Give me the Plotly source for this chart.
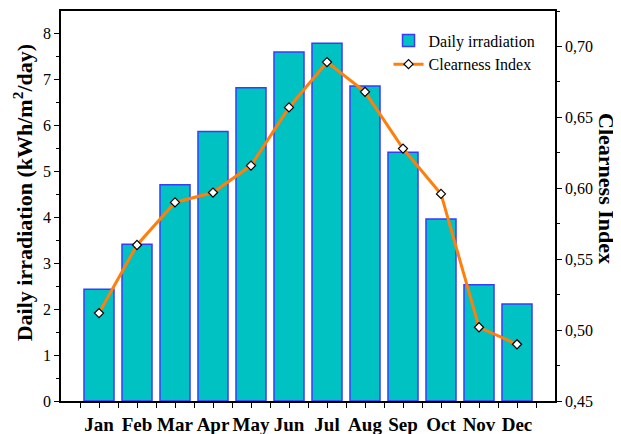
import plotly.graph_objects as go

months = ["Jan", "Feb", "Mar", "Apr", "May", "Jun", "Jul", "Aug", "Sep", "Oct", "Nov", "Dec"]
irradiation = [2.43, 3.41, 4.70, 5.86, 6.81, 7.59, 7.78, 6.85, 5.41, 3.96, 2.53, 2.11]
clearness = [0.512, 0.560, 0.590, 0.597, 0.616, 0.657, 0.689, 0.668, 0.628, 0.596, 0.502, 0.490]

xs = list(range(len(months)))
font_family = "Liberation Serif"

fig = go.Figure()
fig.add_trace(go.Bar(
    x=xs, y=irradiation, name="Daily irradiation", width=0.79,
    marker=dict(color="#00C2C2", line=dict(color="#3A3AFF", width=1.5)),
    yaxis="y",
))
fig.add_trace(go.Scatter(
    x=xs, y=clearness, name="Clearness Index", mode="lines+markers",
    line=dict(color="#FF7F0A", width=3),
    marker=dict(symbol="diamond", size=7, color="white", line=dict(color="black", width=1.2)),
    yaxis="y2",
))

# page body has an 8px default margin, so the figure is sized/offset to compensate
fig.update_layout(
    width=613, height=426,
    margin=dict(l=53, r=66, t=3, b=33, autoexpand=False),
    paper_bgcolor="white", plot_bgcolor="white",
    separators=",.",
    font=dict(family=font_family, size=16, color="black"),
    showlegend=True,
    legend=dict(x=0.663, y=0.968, xanchor="left", yanchor="top",
                bgcolor="rgba(0,0,0,0)", font=dict(size=16, family=font_family),
                itemwidth=30, tracegroupgap=0),
    xaxis=dict(
        range=[-1, 12], tickvals=xs, ticktext=months, automargin=False,
        showline=True, linecolor="black", linewidth=1.5, mirror=True,
        ticks="outside", ticklen=5, tickwidth=1.2, tickcolor="black",
        tickfont=dict(size=19, family=font_family, weight="bold"),
        minor=dict(tick0=0.5, dtick=1, ticks="outside", ticklen=5, tickwidth=1.2, tickcolor="black"),
        showgrid=False, zeroline=False,
    ),
    yaxis=dict(
        range=[0, 8.48], dtick=1, tick0=0, automargin=False,
        showline=True, linecolor="black", linewidth=1.5,
        ticks="outside", ticklen=5, tickwidth=1.2, tickcolor="black",
        minor=dict(dtick=0.5, ticks="outside", ticklen=3, tickwidth=1.2, tickcolor="black"),
        tickfont=dict(size=16, family=font_family),
        showgrid=False, zeroline=False,
    ),
    yaxis2=dict(
        range=[0.45, 0.725], dtick=0.05, tick0=0.45, tickformat=".2f", automargin=False,
        overlaying="y", side="right",
        showline=True, linecolor="black", linewidth=1.5,
        ticks="outside", ticklen=5, tickwidth=1.2, tickcolor="black",
        minor=dict(dtick=0.025, ticks="outside", ticklen=3, tickwidth=1.2, tickcolor="black"),
        tickfont=dict(size=16, family=font_family),
        showgrid=False, zeroline=False,
    ),
    annotations=[
        dict(text="<b>Daily irradiation (kWh/m<sup>2</sup>/day)</b>", xref="paper", yref="paper",
             x=-0.077, y=0.535, xanchor="center", yanchor="middle", textangle=-90,
             showarrow=False, font=dict(size=22, family=font_family)),
        dict(text="<b>Clearness Index</b>", xref="paper", yref="paper",
             x=1.104, y=0.545, xanchor="center", yanchor="middle", textangle=90,
             showarrow=False, font=dict(size=22, family=font_family)),
    ],
)

fig.write_html("out.html")
